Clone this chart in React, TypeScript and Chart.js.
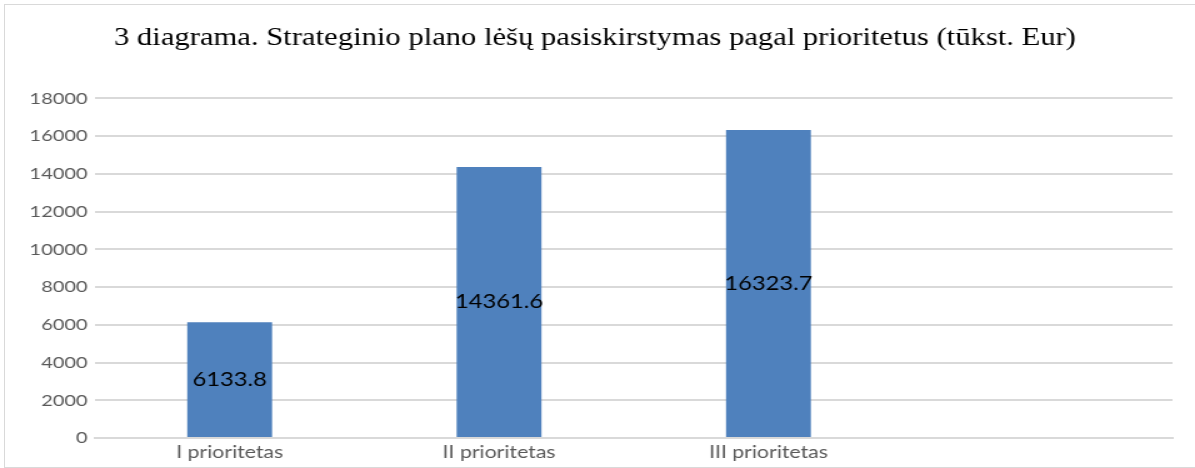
import React, { useEffect, useRef } from "react";
import { Chart, registerables } from "chart.js";

Chart.register(...registerables);

const categories: string[] = ["I prioritetas", "II prioritetas", "III prioritetas", ""];
const values: (number | null)[] = [6133.8, 14361.6, 16323.7, null];
const yTicksMax = 18000;
const yTickStep = 2000;
const titleText = "3 diagrama. Strateginio plano lėšų pasiskirstymas pagal prioritetus (tūkst. Eur)";

const STRETCH = 1.25;
const W = 1195;
const H = 468;
const INNER_W = Math.round(W / STRETCH);

const valueLabels = {
  id: "valueLabels",
  afterDatasetsDraw(chart: any) {
    const ctx = chart.ctx;
    const meta = chart.getDatasetMeta(0);
    ctx.save();
    ctx.font = "19px Lato";
    ctx.fillStyle = "#000000";
    ctx.textAlign = "center";
    ctx.textBaseline = "middle";
    meta.data.forEach((bar: any, i: number) => {
      const v = values[i];
      if (v == null) return;
      const p = bar.getProps(["x", "y", "base"], true);
      ctx.fillText(v.toFixed(1), p.x, (p.y + p.base) / 2);
    });
    ctx.restore();
  },
};

export default function App() {
  const ref = useRef<HTMLCanvasElement | null>(null);
  useEffect(() => {
    document.body.style.margin = "0";
    if (!ref.current) return;
    const chart = new Chart(ref.current, {
      type: "bar",
      data: {
        labels: categories,
        datasets: [
          {
            data: values,
            backgroundColor: "#4f81bd",
            borderWidth: 0,
            categoryPercentage: 1,
            barPercentage: 0.315,
          },
        ],
      },
      options: {
        animation: false,
        responsive: true,
        maintainAspectRatio: false,
        layout: { padding: { left: 14, right: 18, top: 0, bottom: 1.5 } },
        plugins: {
          legend: { display: false },
          tooltip: { enabled: false },
          title: {
            display: true,
            text: titleText,
            color: "#000000",
            font: { family: "'Liberation Serif', 'Times New Roman', serif", size: 24.5, weight: "normal" },
            padding: { top: 24, bottom: 45 },
          },
        },
        scales: {
          x: {
            grid: { display: false, drawTicks: false },
            border: { display: true, color: "#d9d9d9", width: 2 },
            ticks: {
              color: "#595959",
              font: { family: "Lato", size: 17 },
              padding: 4,
              maxRotation: 0,
              autoSkip: false,
            },
          },
          y: {
            min: 0,
            max: yTicksMax,
            afterFit: (s: any) => {
              s.width = 62;
            },
            grid: { color: "#d9d9d9", lineWidth: 2, drawTicks: false },
            border: { display: false },
            ticks: {
              stepSize: yTickStep,
              color: "#595959",
              font: { family: "Lato", size: 16 },
              padding: 6,
              callback: (v: any) => String(v),
            },
          },
        },
      },
      plugins: [valueLabels],
    });
    return () => chart.destroy();
  }, []);

  return (
    <div style={{ position: "relative", width: W, height: H, overflow: "hidden", background: "#fff" }}>
      <div
        style={{
          position: "absolute",
          left: 4,
          top: 4,
          width: W + 10,
          height: H - 4,
          border: "1px solid #d9d9d9",
          boxSizing: "border-box",
        }}
      />
      <div
        style={{
          position: "absolute",
          left: 0,
          top: 0,
          width: INNER_W,
          height: H,
          transform: `scaleX(${STRETCH})`,
          transformOrigin: "0 0",
        }}
      >
        <canvas ref={ref} />
      </div>
    </div>
  );
}
